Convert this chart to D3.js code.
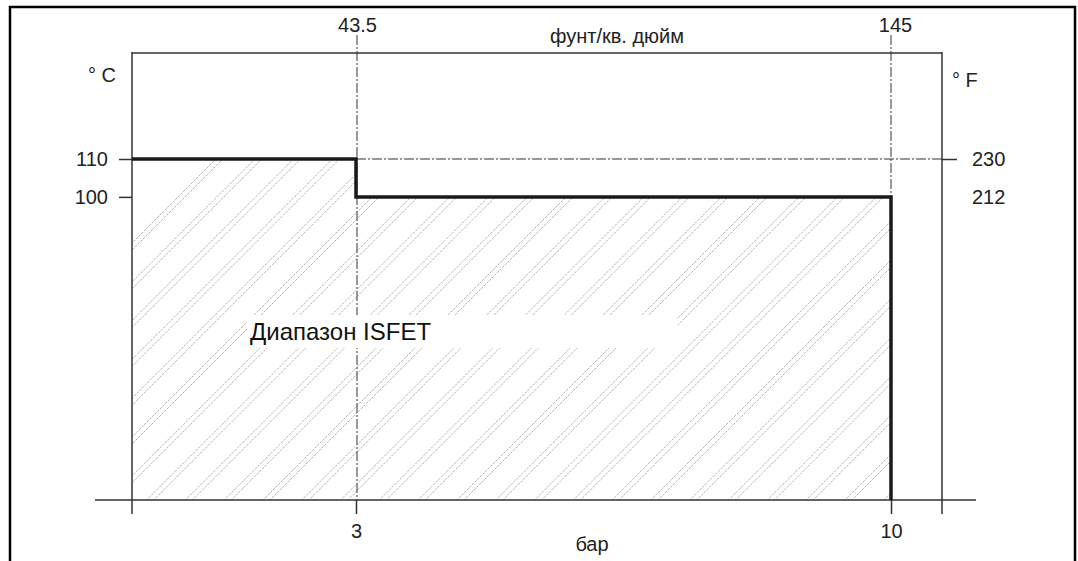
<!DOCTYPE html>
<html>
<head>
<meta charset="utf-8">
<script src="https://cdn.jsdelivr.net/npm/d3@7"></script>
<style>
  body { margin: 0; background: #fff; }
  svg { display: block; font-family: Arial, "Liberation Sans", sans-serif; }
  .tick text { font-size: 20px; fill: #222; }
  .lbl { font-size: 20px; fill: #222; }
</style>
</head>
<body>
<div id="chart"></div>
<script>
// working range of the ISFET sensor: pressure (bar) vs. temperature (°C)
const pressureBar = [0, 3, 3, 10, 10];
const tempC = [110, 110, 100, 100, 20];
const barTicks = [3, 10];
const psiTicks = [43.5, 145];
const celsiusTicks = [110, 100];
const fahrenheitTicks = [230, 212];
const rangeLabel = 'Диапазон ISFET';

const w = 1078;
const h = 561;
const plot_left = 132;
const plot_right = 942;
const plot_top = 53;
const plot_bottom = 500;

const svg = d3.select('#chart')
  .append('svg')
  .attr('width', w)
  .attr('height', h);

// pressure scales (bar below, psi above), piecewise to fit the drawing
const xScale = d3.scaleLinear().domain([0, 3, 10]).range([plot_left, 356, 891]);
const psiScale = d3.scaleLinear().domain([0, 43.5, 145]).range([plot_left, 357, 891]);
// temperature scales
const yScale = d3.scaleLinear().domain([20, 110]).range([plot_bottom, 159]);
const fScale = d3.scaleLinear().domain([68, 230]).range([plot_bottom, 159]);

const points = pressureBar.map((p, i) => ({p: p, t: tempC[i]}));

// outer frame
svg.append('rect')
  .attr('x', 10).attr('y', 7)
  .attr('width', 1065).attr('height', 600)
  .attr('fill', 'none')
  .attr('stroke', '#000')
  .attr('stroke-width', 2.5);

// hatched area under the limit line
svg.append('clipPath').attr('id', 'area-clip')
  .append('path')
  .attr('d', d3.area()
    .x(d => xScale(d.p))
    .y0(yScale(20))
    .y1(d => yScale(d.t))(points.slice(0, 4)));

const hatch = svg.append('g').attr('clip-path', 'url(#area-clip)');
const cs = d3.range(375, 1500, 38.8);
cs.forEach(c => {
  [c, c + 7].forEach(k => {
    hatch.append('line')
      .attr('x1', k - 600).attr('y1', 600)
      .attr('x2', k).attr('y2', 0)
      .attr('stroke', '#9a9a9a')
      .attr('stroke-width', 0.8)
      .attr('stroke-dasharray', '2.5,1.2');
  });
});

// dash-dot guide lines
const dashDot = '10,2,2,2';
svg.append('line')
  .attr('x1', xScale(3) + 1).attr('y1', 35)
  .attr('x2', xScale(3) + 1).attr('y2', plot_bottom)
  .attr('stroke', '#333').attr('stroke-width', 1)
  .attr('stroke-dasharray', dashDot);
svg.append('line')
  .attr('x1', xScale(10)).attr('y1', 35)
  .attr('x2', xScale(10)).attr('y2', yScale(100))
  .attr('stroke', '#333').attr('stroke-width', 1)
  .attr('stroke-dasharray', dashDot);
svg.append('line')
  .attr('x1', xScale(3)).attr('y1', yScale(110))
  .attr('x2', plot_right).attr('y2', yScale(110))
  .attr('stroke', '#333').attr('stroke-width', 1)
  .attr('stroke-dasharray', dashDot);

// frame lines of the plot
const frame = svg.append('g').attr('stroke', '#333').attr('stroke-width', 1.5);
frame.append('line').attr('x1', plot_left).attr('y1', plot_top).attr('x2', plot_right).attr('y2', plot_top);
frame.append('line').attr('x1', plot_left).attr('y1', plot_top - 1).attr('x2', plot_left).attr('y2', 514);
frame.append('line').attr('x1', plot_right).attr('y1', plot_top - 1).attr('x2', plot_right).attr('y2', 514);
frame.append('line').attr('x1', 95).attr('y1', plot_bottom).attr('x2', 976).attr('y2', plot_bottom);

// axes
svg.append('g')
  .attr('transform', 'translate(' + plot_left + ',0)')
  .call(d3.axisLeft(yScale).tickValues(celsiusTicks).tickSize(13).tickPadding(11))
  .call(g => g.select('.domain').remove());

svg.append('g')
  .attr('transform', 'translate(' + plot_right + ',0)')
  .call(d3.axisRight(fScale).tickValues(fahrenheitTicks).tickSize(15).tickPadding(15))
  .call(g => g.select('.domain').remove())
  .call(g => g.selectAll('.tick line').attr('x2', d => d === 230 ? 15 : 0));

svg.append('g')
  .attr('transform', 'translate(0,' + plot_bottom + ')')
  .call(d3.axisBottom(xScale).tickValues(barTicks).tickSize(14).tickPadding(10))
  .call(g => g.select('.domain').remove());

svg.append('g')
  .attr('transform', 'translate(0,' + plot_top + ')')
  .call(d3.axisTop(psiScale).tickValues(psiTicks).tickFormat(d => String(d)).tickSize(0).tickPadding(21))
  .call(g => g.select('.domain').remove())
  .call(g => g.selectAll('.tick').filter(d => d === 145).select('text').attr('x', 4));

svg.selectAll('.tick line').attr('stroke', '#333').attr('stroke-width', 1.5);

// limit line
svg.append('path')
  .datum(points)
  .attr('d', d3.line().x(d => xScale(d.p)).y(d => yScale(d.t)))
  .attr('fill', 'none')
  .attr('stroke', '#1a1a1a')
  .attr('stroke-width', 3.5);

// range label on a white strip
svg.append('rect')
  .attr('x', 247).attr('y', 315)
  .attr('width', 430).attr('height', 33)
  .attr('fill', '#fff');
svg.append('text')
  .text(rangeLabel)
  .attr('x', 250).attr('y', 340)
  .style('font-size', '24px')
  .attr('fill', '#111');

// unit labels
svg.append('text').attr('class', 'lbl').text('° C').attr('x', 88).attr('y', 82);
svg.append('text').attr('class', 'lbl').text('° F').attr('x', 952).attr('y', 87);
svg.append('text').attr('class', 'lbl').text('фунт/кв. дюйм')
  .attr('x', 617).attr('y', 43).attr('text-anchor', 'middle');
svg.append('text').attr('class', 'lbl').text('бар')
  .attr('x', 592).attr('y', 551).attr('text-anchor', 'middle');
</script>
</body>
</html>
